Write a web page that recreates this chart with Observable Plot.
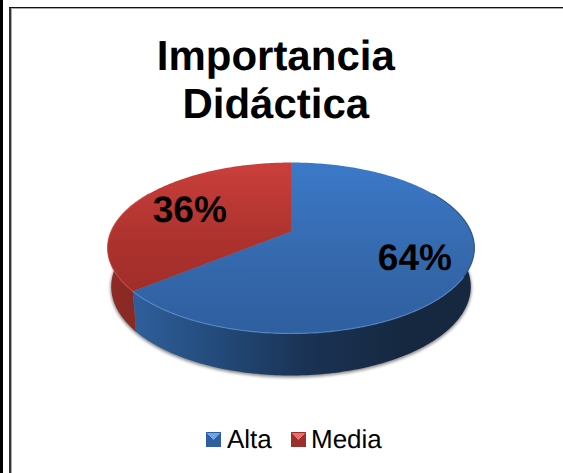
<!DOCTYPE html>
<html>
<head>
<meta charset="utf-8">
<script src="https://cdn.jsdelivr.net/npm/d3@7"></script>
<script src="https://cdn.jsdelivr.net/npm/@observablehq/plot@0.6"></script>
<style>
html,body{margin:0;padding:0;background:#fff;}
#page{position:relative;width:563px;height:473px;overflow:hidden;font-family:"Liberation Sans",Arial,sans-serif;color:#000;text-rendering:geometricPrecision;}
#page svg{position:absolute;left:0;top:0;}
#page svg text{text-rendering:geometricPrecision;}
.edge{position:absolute;}
#title{position:absolute;left:0;width:551.5px;top:32px;margin:0;text-align:center;font-size:42px;line-height:48px;font-weight:bold;}
#legend{position:absolute;top:424px;left:0;height:30px;font-size:26px;line-height:30px;white-space:nowrap;}
#legend span.k{position:absolute;top:8px;width:15px;height:15px;box-sizing:border-box;}
#legend span.t{position:absolute;top:0;}
</style>
</head>
<body>
<div id="page">
  <div class="edge" style="left:0;top:0;width:2.5px;height:473px;background:#000"></div>
  <div class="edge" style="left:9px;top:6.5px;width:1.5px;height:467px;background:#333"></div>
  <div class="edge" style="left:10.5px;top:8px;width:1px;height:465px;background:#aaa"></div>
  <div class="edge" style="left:9px;top:6.5px;width:554px;height:1.5px;background:#111"></div>
  <div class="edge" style="left:10.5px;top:8px;width:553px;height:1px;background:#aaa"></div>
  <div id="chart"></div>
  <h1 id="title"></h1>
  <div id="legend"></div>
</div>
<script>
const titleLines = ["Importancia", "Didáctica"];
const categories = ["Alta", "Media"];
const shares = [64, 36];
const labelRadius = [0.716, 0.655];

// Perspective view of the pie: the unit circle seen from above and in front.
const persp = 0.193;
const rim = (deg, k = 1, drop = 0, yk = 1) => {
  const a = deg * Math.PI / 180, u = Math.sin(a), v = Math.cos(a), d = 1 + persp * v;
  return {x: k * u / d, y: yk * v / d - drop};
};
const arc = (from, to, f) => d3.range(from, to, 1).concat(to).map(f);
const upper = (deg, r = 1) => {
  const a = deg * Math.PI / 180, u = r * Math.sin(a), v = r * Math.cos(a), d = 1 + persp * v;
  return {x: u / d, y: v / d};
};
const lower = deg => rim(deg, 0.98, 0.462, 1.039);
const upperAt = deg => upper(deg);

const cuts = d3.cumsum(shares).map(s => s * 3.6);
const slices = categories.map((c, i) => ({category: c, start: i ? cuts[i - 1] : 0, end: cuts[i], share: shares[i], r: labelRadius[i]}));

const faces = slices.map(s => [{x: 0, y: 0}, ...arc(s.start, s.end, upperAt)]);
const wall = (from, to) => [...arc(from, to, upperAt), ...arc(from, to, lower).reverse()];
const blueCut = slices[0].end;
const labels = slices.map(s => ({...upper((s.start + s.end) / 2, s.r), text: s.share + "%"}));

const defs = () => {
  const d = d3.create("svg:defs");
  const grad = (id, attrs, stops) => {
    const g = d.append("linearGradient").attr("id", id);
    Object.entries(attrs).forEach(([k, v]) => g.attr(k, v));
    stops.forEach(([o, c]) => g.append("stop").attr("offset", o).attr("stop-color", c));
  };
  const vert = {x1: 0, x2: 0, y1: 0, y2: 1};
  grad("faceBlue", vert, [[0, "#3b79c8"], [0.55, "#3569ad"], [1, "#2e5f9f"]]);
  grad("faceRed", vert, [[0, "#ca3f3b"], [0.6, "#ad322e"], [1, "#a02d29"]]);
  grad("wallBlue", {x1: 0, x2: 1, y1: 0, y2: 0}, [[0, "#2f5f9b"], [0.25, "#234a7a"], [0.5, "#1a3355"], [0.8, "#16283f"], [1, "#152840"]]);
  grad("wallRed", {x1: 0, x2: 1, y1: 0, y2: 0}, [[0, "#8f2b26"], [1, "#842823"]]);
  return d.node();
};

const chart = Plot.plot({
  width: 563, height: 473,
  margin: 0,
  style: {background: "transparent"},
  x: {domain: [-1, 1], range: [110.5, 470.5], axis: null},
  y: {domain: [-1, 1], range: [313.3, 148.7], axis: null},
  marks: [
    defs,
    Plot.line(arc(40, 320, lower), {x: "x", y: d => d.y - 0.015, fill: "#8c8c8c", stroke: "#8c8c8c", strokeWidth: 1.5, imageFilter: "blur(1.5px)", curve: "linear"}),
    Plot.line(wall(60, blueCut), {x: "x", y: "y", fill: "url(#wallBlue)", curve: "linear"}),
    Plot.line(wall(blueCut, 300), {x: "x", y: "y", fill: "url(#wallRed)", curve: "linear"}),
    Plot.line(faces[0], {x: "x", y: "y", fill: "url(#faceBlue)", curve: "linear"}),
    Plot.line(faces[1], {x: "x", y: "y", fill: "url(#faceRed)", curve: "linear"}),
    Plot.line(arc(120, blueCut, upperAt), {x: "x", y: "y", stroke: "#5f95d8", strokeWidth: 1.2, strokeOpacity: 0.7, curve: "linear"}),
    Plot.line(arc(60, 120, upperAt), {x: "x", y: "y", stroke: "#24436e", strokeWidth: 1.2, strokeOpacity: 0.6, curve: "linear"}),
    Plot.line(arc(blueCut, 300, upperAt), {x: "x", y: "y", stroke: "#c9504b", strokeWidth: 1.2, strokeOpacity: 0.7, curve: "linear"}),
    Plot.text(labels, {x: "x", y: "y", text: "text", fill: "#000", fontSize: 37, fontWeight: "bold", fontFamily: "Liberation Sans, Arial, sans-serif", textAnchor: "middle", lineAnchor: "middle"})
  ]
});
document.getElementById("chart").append(chart);

document.getElementById("title").innerHTML = titleLines.join("<br>");

const legend = document.getElementById("legend");
const swatch = {Alta: ["#2f5f9c", "#6ea6e8", 206, 227], Media: ["#9c2f2b", "#e8706c", 291, 311]};
categories.forEach(c => {
  const [base, light, kx, tx] = swatch[c];
  const k = document.createElement("span");
  k.className = "k";
  k.style.left = kx + "px";
  k.style.background = `conic-gradient(from 315deg at 50% 55%, ${light} 0 90deg, ${base} 90deg 360deg)`;
  k.style.border = `1px solid ${base}`;
  const t = document.createElement("span");
  t.className = "t";
  t.style.left = tx + "px";
  t.textContent = c;
  legend.append(k, t);
});
</script>
</body>
</html>
